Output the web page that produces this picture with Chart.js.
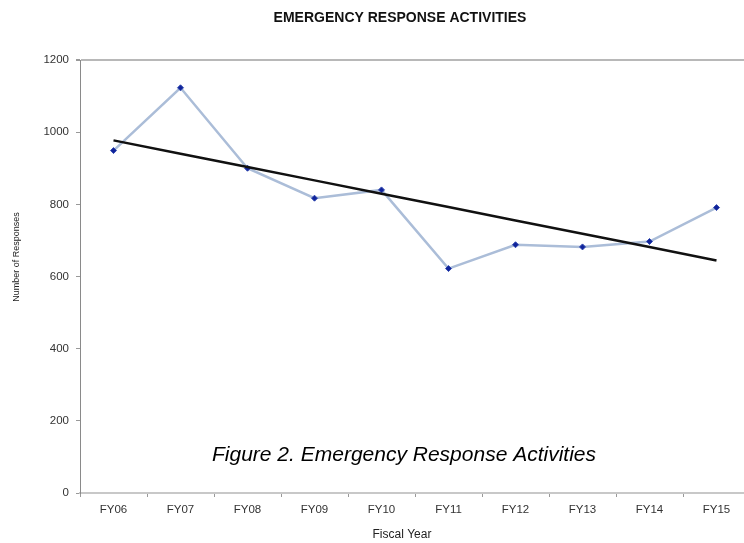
<!DOCTYPE html>
<html>
<head>
<meta charset="utf-8">
<script src="https://cdn.jsdelivr.net/npm/chart.js@4.4.1/dist/chart.umd.min.js"></script>
<style>
  html, body { margin: 0; padding: 0; background: #fff; overflow: hidden; }
  #wrap { position: relative; width: 800px; height: 543px; }
</style>
</head>
<body>
<div id="wrap"><canvas id="chart" width="800" height="543"></canvas></div>
<script>
// Fiscal years and number of emergency responses
const fiscalYears = ['FY06', 'FY07', 'FY08', 'FY09', 'FY10', 'FY11', 'FY12', 'FY13', 'FY14', 'FY15'];
const responses = [949, 1123, 900, 817, 840, 622, 688, 682, 697, 791];
const yTicks = [0, 200, 400, 600, 800, 1000, 1200];

const chartTitle = 'EMERGENCY RESPONSE ACTIVITIES';
const xTitle = 'Fiscal Year';
const yTitle = 'Number of Responses';
const caption = 'Figure 2. Emergency Response Activities';

// Least-squares linear trend of the responses
function linearTrend(values) {
  const n = values.length;
  const mx = (n - 1) / 2;
  const my = values.reduce((a, b) => a + b, 0) / n;
  let sxy = 0, sxx = 0;
  values.forEach((v, i) => { sxy += (i - mx) * (v - my); sxx += (i - mx) * (i - mx); });
  const slope = sxy / sxx;
  return values.map((_, i) => my + slope * (i - mx));
}
const trend = linearTrend(responses);

const FONT = '"Liberation Sans", Arial, sans-serif';

// Title, axis titles and figure caption drawn as text on the canvas
const textPlugin = {
  id: 'texts',
  afterDraw(chart) {
    const c = chart.ctx;
    c.save();
    c.textAlign = 'center';
    c.textBaseline = 'middle';
    c.fillStyle = '#111';
    c.font = 'bold 14px ' + FONT;
    c.fillText(chartTitle, 400, 18);
    c.fillStyle = '#222';
    c.font = '12px ' + FONT;
    c.fillText(xTitle, 402, 535);

    c.save();
    c.translate(17, 257);
    c.rotate(-Math.PI / 2);
    c.font = '9px ' + FONT;
    c.fillText(yTitle, 0, 0);
    c.restore();

    c.fillStyle = '#000';
    c.font = 'italic 21px ' + FONT;
    c.textAlign = 'left';
    c.textBaseline = 'alphabetic';
    c.fillText(caption, 212, 461);
    c.restore();
  }
};

new Chart(document.getElementById('chart'), {
  type: 'line',
  data: {
    labels: fiscalYears,
    datasets: [
      {
        label: 'Responses',
        data: responses,
        borderColor: '#abbdd8',
        borderWidth: 2.5,
        pointStyle: 'rectRot',
        pointRadius: 3,
        pointBackgroundColor: '#10239a',
        pointBorderColor: '#3048b0',
        pointBorderWidth: 1,
        tension: 0,
        order: 2
      },
      {
        label: 'Trend',
        data: trend,
        borderColor: '#111',
        borderWidth: 2.5,
        pointRadius: 0,
        tension: 0,
        order: 1
      }
    ]
  },
  options: {
    responsive: false,
    animation: false,
    layout: { padding: { left: 0, right: 50, top: 60, bottom: 0 } },
    plugins: {
      legend: { display: false },
      title: { display: false },
      tooltip: { enabled: false }
    },
    scales: {
      x: {
        offset: true,
        grid: {
          offset: true,
          drawOnChartArea: false,
          tickLength: 4,
          tickColor: '#999'
        },
        border: { color: '#c8c8c8', width: 2 },
        ticks: {
          color: '#333',
          font: { family: FONT, size: 11.5 },
          padding: 6,
          maxRotation: 0
        },
        afterFit(scale) { scale.height = 50; }
      },
      y: {
        min: 0,
        max: 1200,
        afterBuildTicks(scale) { scale.ticks = yTicks.map(v => ({ value: v })); },
        grid: {
          color: (ctx) => (ctx.tick && ctx.tick.value === 1200 ? '#b8b8b8' : 'rgba(0,0,0,0)'),
          lineWidth: (ctx) => (ctx.tick && ctx.tick.value === 1200 ? 2 : 1),
          tickLength: 4,
          tickColor: '#999'
        },
        border: { color: '#8a8a8a', width: 1 },
        ticks: {
          color: '#333',
          font: { family: FONT, size: 11.5 },
          padding: 7,
          callback: (v) => String(v)
        },
        afterFit(scale) { scale.width = 80; }
      }
    }
  },
  plugins: [textPlugin]
});
</script>
</body>
</html>
